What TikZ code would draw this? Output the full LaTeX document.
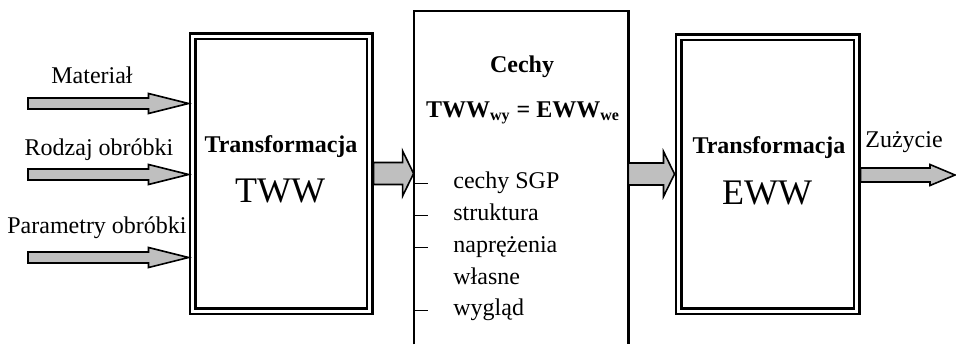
\documentclass[tikz,border=0pt]{standalone}
\usepackage{fontspec}
\setmainfont{Liberation Serif}
\usetikzlibrary{calc}

\tikzset{
    wbox/.style={draw, double, line width=1.25pt, double distance=1.5pt,
        inner sep=0pt, outer sep=2pt, minimum width=88.5pt, minimum height=137.5pt},
    flow/.style={draw, line width=0.8pt, fill=black!25, line join=miter},
    txt/.style={inner sep=0pt, anchor=base, font=\fontsize{12}{14}\selectfont},
    bigtxt/.style={inner sep=0pt, anchor=base, font=\fontsize{18}{21}\selectfont},
    item/.style={inner sep=0pt, anchor=base west, font=\fontsize{12}{14}\selectfont},
}

% start, end, half shaft, half head, head length
\newcommand{\blockarrow}[5]{
    \draw[flow] let \p1=(#1), \p2=(#2) in
        (\x1,\y1-#3) -- (\x2-#5,\y1-#3) -- (\x2-#5,\y1-#4) -- (\x2,\y1)
        -- (\x2-#5,\y1+#4) -- (\x2-#5,\y1+#3) -- (\x1,\y1+#3) -- cycle;
}

\begin{document}
\begin{tikzpicture}[x=0.5pt, y=-0.5pt]

    \useasboundingbox (0,0) rectangle (956,344);

    % boxes
    \node[wbox] (tww) at (281,173.5) {};
    \node[wbox, minimum width=89pt, minimum height=137pt] (eww) at (767.5,174) {};
    \node[minimum width=107pt, minimum height=166.5pt, inner sep=0pt] (cechy) at (521,177.5) {};
    \draw[line width=1.1pt] (cechy.south west) |- (cechy.north) -| (cechy.south east);

    % texts in boxes
    \node[txt] (twwtitle) at (281,152) {\textbf{Transformacja}};
    \node[bigtxt] (twwname) at (280,202) {TWW};
    \node[txt] (ewwtitle) at (769,153) {\textbf{Transformacja}};
    \node[bigtxt] (ewwname) at (767,204) {EWW};

    \node[txt] (cechytitle) at (522,72) {\textbf{Cechy}};
    \node[txt] (cechyeq) at (523,117) {\textbf{TWW\textsubscript{wy} = EWW\textsubscript{we}}};

    \node[item] (sgp) at (453,188) {cechy SGP};
    \node[item] (struk) at (453,220) {struktura};
    \node[item] (napr) at (453,252) {naprężenia};
    \node[item] (wlasne) at (453,284) {własne};
    \node[item] (wygl) at (453,315) {wygląd};

    \foreach \it in {sgp,struk,napr,wygl} {
        \draw[line width=0.5pt] (cechy.west |- \it.mid) -- ++(7pt,0);
    }

    % inputs
    \node[txt] (material) at (92,83) {Materiał};
    \node[txt] (rodzaj) at (99,155) {Rodzaj obróbki};
    \node[txt] (param) at (97,233) {Parametry obróbki};

    \coordinate (in1) at (28,103.5);
    \coordinate (in2) at (28,174.5);
    \coordinate (in3) at (28,257.5);

    \blockarrow{in1}{tww.west |- in1}{2.75pt}{5pt}{20pt}
    \blockarrow{in2}{tww.west |- in2}{2.75pt}{5pt}{20pt}
    \blockarrow{in3}{tww.west |- in3}{2.75pt}{5pt}{20pt}

    % between boxes
    \blockarrow{tww.east}{cechy.west |- tww.east}{5.5pt}{11.25pt}{5.5pt}
    \blockarrow{cechy.east |- eww.west}{eww.west}{5.5pt}{11.25pt}{5.5pt}

    % output
    \coordinate (out) at (955,175);
    \blockarrow{eww.east |- out}{out}{3.5pt}{5.25pt}{12.5pt}
    \node[txt, anchor=base west] (zuzycie) at (865,147) {Zużycie};

\end{tikzpicture}
\end{document}
